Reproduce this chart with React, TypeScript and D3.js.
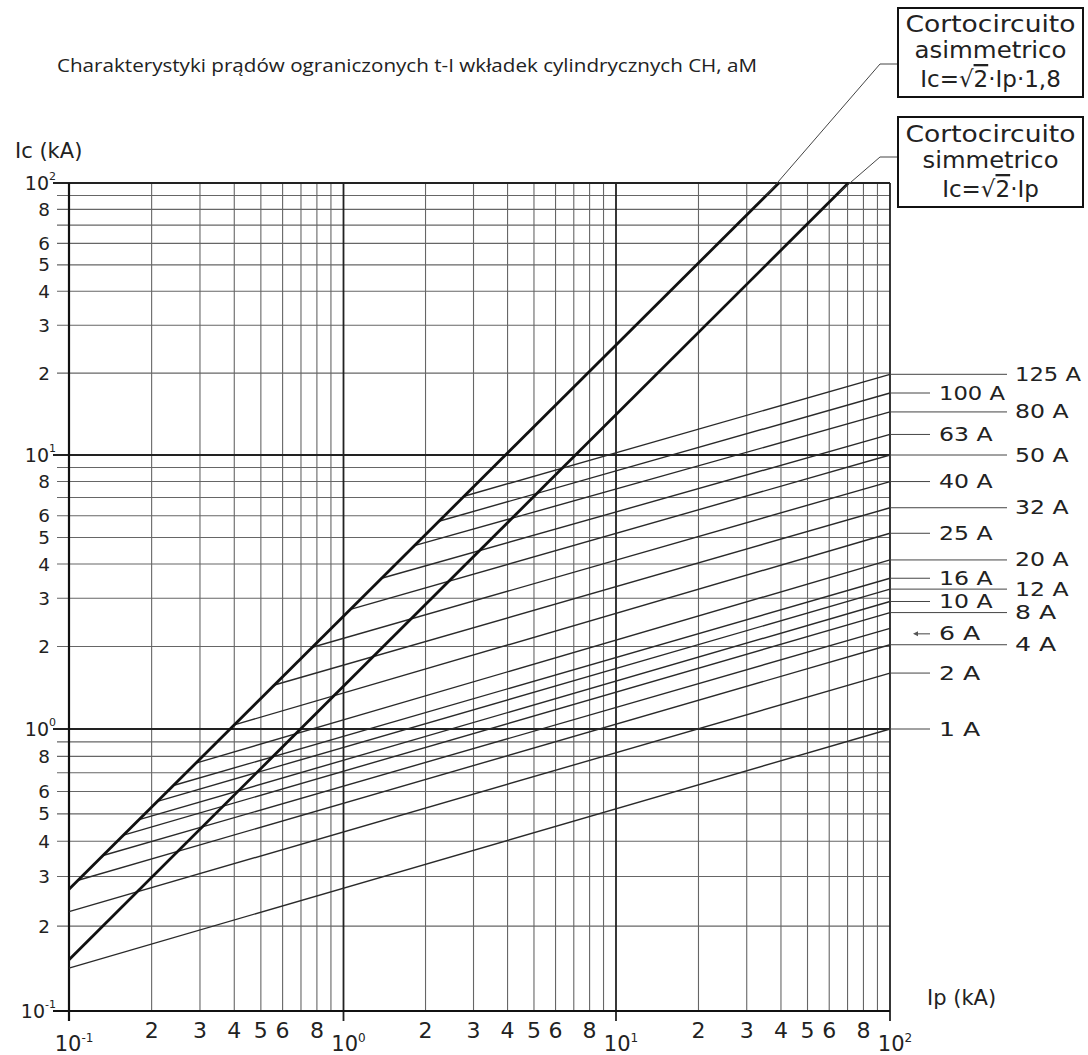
import React from 'react';
import * as d3 from 'd3';

// Fuse ratings (aM, CH cylindrical) and where each cut-off line runs
const fuseLabels = ["1 A", "2 A", "4 A", "6 A", "8 A", "10 A", "12 A", "16 A", "20 A", "25 A", "32 A", "40 A", "50 A", "63 A", "80 A", "100 A", "125 A"];
// Ic (kA) at Ip = 100 kA, the right edge of the chart
const fuseEndIc = [1.0, 1.6, 2.03, 2.33, 2.66, 2.92, 3.24, 3.55, 4.14, 5.18, 6.42, 8.0, 10.0, 11.9, 14.4, 16.9, 19.8];
// Ip (kA) where each line begins (on the asymmetric line, or at the left edge)
const fuseStartIp = [0.1, 0.1, 0.108, 0.133, 0.158, 0.18, 0.21, 0.24, 0.29, 0.40, 0.56, 0.77, 1.06, 1.38, 1.82, 2.24, 2.77];
// Ic at the start, only for the lines that do not start on the asymmetric line
const fuseStartIc = [0.142, 0.225, null, null, null, null, null, null, null, null, null, null, null, null, null, null, null];
const rightColumn = ["125 A", "80 A", "50 A", "32 A", "20 A", "12 A", "8 A", "4 A"];

// Peak short-circuit lines as drawn
const asymIp = [0.1, 39.3];
const asymIc = [0.27, 100];
const symIp = [0.1, 70.5];
const symIc = [0.152, 100];

const decades = [0.1, 1, 10, 100];
const decadeExp = ["-1", "0", "1", "2"];
const minorLabels = [2, 3, 4, 5, 6, 8];
const minorSteps = [2, 3, 4, 5, 6, 7, 8, 9];

const title = "Charakterystyki prądów ograniczonych t-I wkładek cylindrycznych CH, aM";

const font = "'DejaVu Sans', 'Liberation Sans', Arial, sans-serif";

export default function App() {
    const width = 1088;
    const height = 1055;

    // the scan is not perfectly even, so the decades are mapped piece by piece
    const x = d3.scaleLog().domain(decades).range([69, 343.5, 616, 890]);
    const y = d3.scaleLog().domain(decades).range([1011, 729, 455, 183]);

    const left = x(0.1), right = x(100), top = y(100), bottom = y(0.1);

    const minorValues: number[] = [];
    decades.slice(0, 3).forEach(d => minorSteps.forEach(m => minorValues.push(m * d)));

    // straight lines in pixel space
    const a0 = [x(asymIp[0]), y(asymIc[0])];
    const a1 = [x(asymIp[1]), y(asymIc[1])];
    const s0 = [x(symIp[0]), y(symIc[0])];
    const s1 = [x(symIp[1]), y(symIc[1])];
    const asymYAt = (px: number) => a0[1] + (px - a0[0]) * (a1[1] - a0[1]) / (a1[0] - a0[0]);
    const asymXAt = (py: number) => a0[0] + (py - a0[1]) * (a1[0] - a0[0]) / (a1[1] - a0[1]);
    const symXAt = (py: number) => s0[0] + (py - s0[1]) * (s1[0] - s0[0]) / (s1[1] - s0[1]);

    const fuses = fuseLabels.map((label, i) => {
        const sx = x(fuseStartIp[i]);
        const sIc = fuseStartIc[i];
        const sy = sIc == null ? asymYAt(sx) : y(sIc);
        const ey = y(fuseEndIc[i]);
        const col = rightColumn.includes(label) ? 1 : 0;
        const detached = label === "6 A";
        const ly = detached ? ey + 5.5 : ey;
        return { label, sx, sy, ey, ly, col, detached };
    });

    const leader1Y = y(90);
    const leader2Y = y(92);

    return (
        <svg width={width} height={height} style={{ position: 'absolute', left: 0, top: 0, background: '#fff' }}>
            <rect x={0} y={0} width={width} height={height} fill="#fff" />

            <text x={57} y={72} fontFamily="'Open Sans', Lato, sans-serif" fontSize={19} fill="#222"
                textLength={700} lengthAdjust="spacingAndGlyphs">{title}</text>

            {/* horizontal grid */}
            <g stroke="#666" strokeWidth={1.1}>
                {minorValues.map((v, i) => (
                    <line key={'hy' + i} x1={57} x2={right} y1={y(v)} y2={y(v)} />
                ))}
            </g>
            {/* vertical grid */}
            <g stroke="#666" strokeWidth={1.1}>
                {minorValues.map((v, i) => (
                    <line key={'vx' + i} x1={x(v)} x2={x(v)} y1={top} y2={bottom} />
                ))}
            </g>
            {/* decade lines */}
            <g stroke="#222" strokeWidth={1.8}>
                {decades.map((d, i) => (
                    <line key={'dy' + i} x1={53} x2={right} y1={y(d)} y2={y(d)} />
                ))}
                {decades.map((d, i) => (
                    <line key={'dx' + i} x1={x(d)} x2={x(d)} y1={top} y2={bottom + 10} />
                ))}
            </g>
            <line x1={left} x2={left} y1={top} y2={bottom + 10} stroke="#111" strokeWidth={2.2} />
            <line x1={53} x2={right} y1={bottom} y2={bottom} stroke="#111" strokeWidth={2.2} />

            {/* y tick labels */}
            <g fontFamily={font} fontSize={18.4} fill="#222" textAnchor="end" dominantBaseline="central">
                {decades.map((d, i) => (
                    minorLabels.map(m => i < 3 ? (
                        <text key={'yl' + i + m} x={50} y={y(m * d)}>{m}</text>
                    ) : null)
                ))}
                {decades.map((d, i) => (
                    <text key={'yd' + i} x={56} y={y(d)} fontSize={19}>
                        10<tspan fontSize={11} dy={-7}>{decadeExp[i]}</tspan>
                    </text>
                ))}
            </g>

            {/* x tick labels */}
            <g fontFamily={font} fontSize={22} fill="#222" textAnchor="middle">
                {decades.slice(0, 3).map((d, i) => (
                    minorLabels.map(m => (
                        <text key={'xl' + i + m} x={x(m * d)} y={1038}>{m}</text>
                    ))
                ))}
                {decades.map((d, i) => (
                    <text key={'xd' + i} x={x(d) + 5} y={1051} fontSize={21}>
                        10<tspan fontSize={12} dy={-9}>{decadeExp[i]}</tspan>
                    </text>
                ))}
            </g>

            <text x={15} y={158} fontFamily={font} fontSize={21} fill="#222">Ic (kA)</text>
            <text x={927} y={1005} fontFamily={font} fontSize={21} fill="#222">Ip (kA)</text>

            {/* fuse cut-off lines */}
            <g stroke="#2a2a2a" strokeWidth={1.4} fill="none">
                {fuses.map(f => (
                    <line key={'f' + f.label} x1={f.sx} y1={f.sy} x2={right} y2={f.ey} />
                ))}
            </g>

            {/* symmetric and asymmetric short-circuit lines */}
            <line x1={a0[0]} y1={a0[1]} x2={a1[0]} y2={a1[1]} stroke="#111" strokeWidth={2.8} />
            <line x1={s0[0]} y1={s0[1]} x2={s1[0]} y2={s1[1]} stroke="#111" strokeWidth={2.8} />

            {/* labels on the right */}
            <g stroke="#444" strokeWidth={1}>
                {fuses.map(f => (
                    <line key={'ld' + f.label}
                        x1={f.detached ? 916 : right} x2={f.col ? 1007 : 930}
                        y1={f.ly} y2={f.ly} />
                ))}
            </g>
            {fuses.filter(f => f.detached).map(f => (
                <path key="arrow" d={`M${913},${f.ly} l5,-2.5 l0,5 z`} fill="#555" />
            ))}
            <g fontFamily={font} fontSize={19.8} fill="#222" dominantBaseline="central">
                {fuses.map(f => (
                    <text key={'lt' + f.label} x={f.col ? 1015 : 939} y={f.ly}
                        textLength={f.label.length * 12.4 + 4} lengthAdjust="spacingAndGlyphs">{f.label}</text>
                ))}
            </g>

            {/* callout boxes */}
            <polyline points={`898,64 880,64 ${asymXAt(leader1Y)},${leader1Y}`} fill="none" stroke="#444" strokeWidth={1} />
            <polyline points={`898,157 880,157 ${symXAt(leader2Y)},${leader2Y}`} fill="none" stroke="#444" strokeWidth={1} />

            <rect x={898} y={8} width={185} height={89} fill="#fff" stroke="#111" strokeWidth={2} />
            <rect x={898} y={117} width={185} height={90} fill="#fff" stroke="#111" strokeWidth={2} />
            <g fontFamily={font} fontSize={23} fill="#222" textAnchor="middle" lengthAdjust="spacingAndGlyphs">
                <text x={990.5} y={32} textLength={170} lengthAdjust="spacingAndGlyphs">Cortocircuito</text>
                <text x={990.5} y={58} textLength={152} lengthAdjust="spacingAndGlyphs">asimmetrico</text>
                <text x={990.5} y={87}>Ic=√<tspan textDecoration="overline">2</tspan>·Ip·1,8</text>
                <text x={990.5} y={142} textLength={170} lengthAdjust="spacingAndGlyphs">Cortocircuito</text>
                <text x={990.5} y={168} textLength={136} lengthAdjust="spacingAndGlyphs">simmetrico</text>
                <text x={990.5} y={197}>Ic=√<tspan textDecoration="overline">2</tspan>·Ip</text>
            </g>
        </svg>
    );
}
